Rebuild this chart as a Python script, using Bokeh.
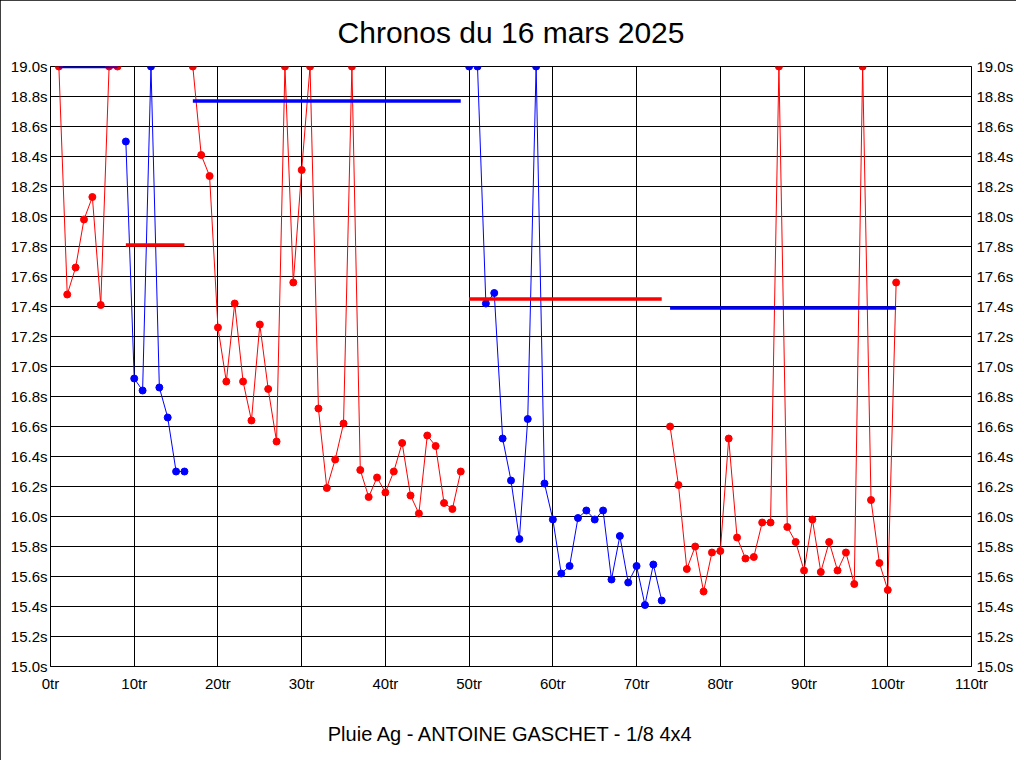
from bokeh.plotting import figure
from bokeh.models import (FixedTicker, LinearAxis, Range1d, ColumnDataSource)
from bokeh.embed import file_html
from bokeh.resources import INLINE

# ---- data ----
laps_1 = [1, 2, 3, 4, 5, 6, 7, 8]
times_1 = [19.0, 17.48, 17.66, 17.98, 18.13, 17.41, 19.0, 19.0]

laps_2 = [9, 10, 11, 12, 13, 14, 15, 16]
times_2 = [18.50, 16.92, 16.84, 19.0, 16.86, 16.66, 16.30, 16.30]

laps_3 = list(range(17, 50))
times_3 = [19.0, 18.41, 18.27, 17.26, 16.90, 17.42, 16.90, 16.64, 17.28, 16.85,
           16.50, 19.0, 17.56, 18.31, 19.0, 16.72, 16.19, 16.38, 16.62, 19.0,
           16.31, 16.13, 16.26, 16.16, 16.30, 16.49, 16.14, 16.02, 16.54, 16.47,
           16.09, 16.05, 16.30]

laps_4 = list(range(50, 74))
times_4 = [19.0, 19.0, 17.42, 17.49, 16.52, 16.24, 15.85, 16.65, 19.0, 16.22,
           15.98, 15.62, 15.67, 15.99, 16.04, 15.98, 16.04, 15.58, 15.87, 15.56,
           15.67, 15.41, 15.68, 15.44]

laps_5 = list(range(74, 102))
times_5 = [16.60, 16.21, 15.65, 15.80, 15.50, 15.76, 15.77, 16.52, 15.86, 15.72,
           15.73, 15.96, 15.96, 19.0, 15.93, 15.83, 15.64, 15.98, 15.63, 15.83,
           15.64, 15.76, 15.55, 19.0, 16.11, 15.69, 15.51, 17.56]

# reference lines (start lap, end lap, time)
ref_start = [1, 9, 17, 50, 74]
ref_end = [8, 16, 49, 73, 101]
ref_time = [19.0, 17.81, 18.77, 17.45, 17.39]

y_ticks = [15.0, 15.2, 15.4, 15.6, 15.8, 16.0, 16.2, 16.4, 16.6, 16.8, 17.0,
           17.2, 17.4, 17.6, 17.8, 18.0, 18.2, 18.4, 18.6, 18.8, 19.0]
x_ticks = [0, 10, 20, 30, 40, 50, 60, 70, 80, 90, 100, 110]

title_text = "Chronos du 16 mars 2025"
subtitle_text = "Pluie Ag - ANTOINE GASCHET - 1/8 4x4"

RED = "#ff0000"
BLUE = "#0000ff"
series = [(laps_1, times_1, RED), (laps_2, times_2, BLUE), (laps_3, times_3, RED),
          (laps_4, times_4, BLUE), (laps_5, times_5, RED)]
ref_colors = [BLUE, RED, BLUE, RED, BLUE]

FONT = "Liberation Sans"

p = figure(width=1016, height=760, output_backend="svg", toolbar_location=None,
           x_range=Range1d(0, 110), y_range=Range1d(15.0, 19.0),
           min_border_left=50, min_border_right=42, min_border_top=66,
           min_border_bottom=94, y_axis_location=None, x_axis_location=None)

p.background_fill_color = "white"
p.border_fill_color = "white"
p.outline_line_color = "black"
p.outline_line_width = 1
p.styles = {"outline": "1px solid black", "outline-offset": "-1px"}


def plain_axis(ax, standoff):
    ax.major_tick_in = 0
    ax.major_tick_out = 0
    ax.minor_tick_in = 0
    ax.minor_tick_out = 0
    ax.axis_line_color = "black"
    ax.major_label_text_font = FONT
    ax.major_label_text_font_size = "15px"
    ax.major_label_text_color = "black"
    ax.major_label_standoff = standoff


ytick_labels = {t: f"{t:.1f}s" for t in y_ticks}
xtick_labels = {t: f"{t}tr" for t in x_ticks}

for loc, standoff in (("left", 3), ("right", 5)):
    ax = LinearAxis(ticker=FixedTicker(ticks=y_ticks), major_label_overrides=ytick_labels)
    plain_axis(ax, standoff)
    p.add_layout(ax, loc)

# bottom axis carries the subtitle as its label
xax = LinearAxis(ticker=FixedTicker(ticks=x_ticks), major_label_overrides=xtick_labels)
plain_axis(xax, 8)
xax.axis_label = subtitle_text
xax.axis_label_text_font = FONT
xax.axis_label_text_font_size = "20px"
xax.axis_label_text_font_style = "normal"
xax.axis_label_text_color = "black"
xax.axis_label_standoff = 28
p.add_layout(xax, "below")

# top axis without ticks carries the chart title
tax = LinearAxis(ticker=FixedTicker(ticks=[]))
plain_axis(tax, 0)
tax.axis_line_color = None
tax.axis_label = title_text
tax.axis_label_text_font = FONT
tax.axis_label_text_font_size = "30px"
tax.axis_label_text_font_style = "normal"
tax.axis_label_text_color = "black"
tax.axis_label_standoff = 18
p.add_layout(tax, "above")

p.xgrid.ticker = FixedTicker(ticks=x_ticks)
p.ygrid.ticker = FixedTicker(ticks=y_ticks)
p.xgrid.grid_line_color = "black"
p.ygrid.grid_line_color = "black"
p.xgrid.grid_line_width = 1
p.ygrid.grid_line_width = 1

for laps, times, col in series:
    src = ColumnDataSource(dict(x=laps, y=times))
    p.line("x", "y", source=src, line_color=col, line_width=1)
    p.scatter("x", "y", source=src, size=7, fill_color=col, line_color=col)

src_ref = ColumnDataSource(dict(x0=ref_start, x1=ref_end, y=ref_time, c=ref_colors))
p.segment(x0="x0", y0="y", x1="x1", y1="y", source=src_ref, line_color="c", line_width=3.5)

open("out.html", "w").write(file_html(p, INLINE))
